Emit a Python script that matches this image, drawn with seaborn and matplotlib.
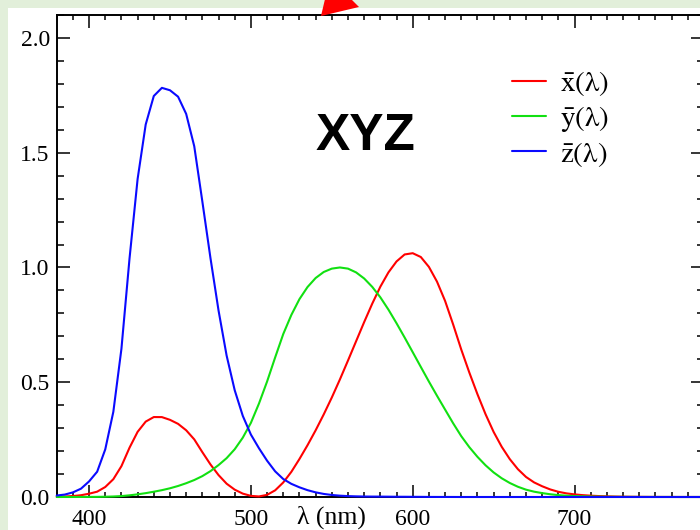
import matplotlib
matplotlib.use("Agg")
import matplotlib.pyplot as plt
from matplotlib.patches import Rectangle, Polygon
from matplotlib.ticker import MultipleLocator
import numpy as np
import pandas as pd
import seaborn as sns

# CIE 1931 2-degree standard observer colour matching functions (5 nm steps)
wavelength = [380, 385, 390, 395, 400, 405, 410, 415, 420, 425, 430, 435, 440, 445,
              450, 455, 460, 465, 470, 475, 480, 485, 490, 495, 500, 505, 510, 515,
              520, 525, 530, 535, 540, 545, 550, 555, 560, 565, 570, 575, 580, 585,
              590, 595, 600, 605, 610, 615, 620, 625, 630, 635, 640, 645, 650, 655,
              660, 665, 670, 675, 680, 685, 690, 695, 700, 705, 710, 715, 720, 725,
              730, 735, 740, 745, 750, 755, 760, 765, 770, 775, 780]

x_bar = [0.0014, 0.0022, 0.0042, 0.0077, 0.0143, 0.0232, 0.0435, 0.0776, 0.1344, 0.2148,
         0.2839, 0.3285, 0.3483, 0.3481, 0.3362, 0.3187, 0.2908, 0.2511, 0.1954, 0.1421,
         0.0956, 0.0580, 0.0320, 0.0147, 0.0049, 0.0024, 0.0093, 0.0291, 0.0633, 0.1096,
         0.1655, 0.2257, 0.2904, 0.3597, 0.4334, 0.5121, 0.5945, 0.6784, 0.7621, 0.8425,
         0.9163, 0.9786, 1.0263, 1.0567, 1.0622, 1.0456, 1.0026, 0.9384, 0.8544, 0.7514,
         0.6424, 0.5419, 0.4479, 0.3608, 0.2835, 0.2187, 0.1649, 0.1212, 0.0874, 0.0636,
         0.0468, 0.0329, 0.0227, 0.0158, 0.0114, 0.0081, 0.0058, 0.0041, 0.0029, 0.0020,
         0.0014, 0.0010, 0.0007, 0.0005, 0.0003, 0.0002, 0.0002, 0.0001, 0.0001, 0.0001,
         0.0000]

y_bar = [0.0000, 0.0001, 0.0001, 0.0002, 0.0004, 0.0006, 0.0012, 0.0022, 0.0040, 0.0073,
         0.0116, 0.0168, 0.0230, 0.0298, 0.0380, 0.0480, 0.0600, 0.0739, 0.0910, 0.1126,
         0.1390, 0.1693, 0.2080, 0.2586, 0.3230, 0.4073, 0.5030, 0.6082, 0.7100, 0.7932,
         0.8620, 0.9149, 0.9540, 0.9803, 0.9950, 1.0000, 0.9950, 0.9786, 0.9520, 0.9154,
         0.8700, 0.8163, 0.7570, 0.6949, 0.6310, 0.5668, 0.5030, 0.4412, 0.3810, 0.3210,
         0.2650, 0.2170, 0.1750, 0.1382, 0.1070, 0.0816, 0.0610, 0.0446, 0.0320, 0.0232,
         0.0170, 0.0119, 0.0082, 0.0057, 0.0041, 0.0029, 0.0021, 0.0015, 0.0010, 0.0007,
         0.0005, 0.0004, 0.0002, 0.0002, 0.0001, 0.0001, 0.0001, 0.0000, 0.0000, 0.0000,
         0.0000]

z_bar = [0.0065, 0.0106, 0.0201, 0.0362, 0.0679, 0.1102, 0.2074, 0.3713, 0.6456, 1.0391,
         1.3856, 1.6230, 1.7471, 1.7826, 1.7721, 1.7441, 1.6692, 1.5281, 1.2876, 1.0419,
         0.8130, 0.6162, 0.4652, 0.3533, 0.2720, 0.2123, 0.1582, 0.1117, 0.0783, 0.0573,
         0.0422, 0.0298, 0.0203, 0.0134, 0.0088, 0.0058, 0.0039, 0.0028, 0.0021, 0.0018,
         0.0017, 0.0014, 0.0011, 0.0010, 0.0008, 0.0006, 0.0003, 0.0002, 0.0002, 0.0001,
         0.0000, 0.0000, 0.0000, 0.0000, 0.0000, 0.0000, 0.0000, 0.0000, 0.0000, 0.0000,
         0.0000, 0.0000, 0.0000, 0.0000, 0.0000, 0.0000, 0.0000, 0.0000, 0.0000, 0.0000,
         0.0000, 0.0000, 0.0000, 0.0000, 0.0000, 0.0000, 0.0000, 0.0000, 0.0000, 0.0000,
         0.0000]

curve_labels = [r"$\bar{\mathrm{x}}(\mathrm{\lambda})$",
                r"$\bar{\mathrm{y}}(\mathrm{\lambda})$",
                r"$\bar{\mathrm{z}}(\mathrm{\lambda})$"]
curve_colors = ["#ff0000", "#11e011", "#0a0aff"]
x_tick_values = [400, 500, 600, 700]
y_tick_values = [0.0, 0.5, 1.0, 1.5, 2.0]

sns.set_style("ticks")
plt.rcParams["font.family"] = ["Liberation Serif", "DejaVu Serif"]
plt.rcParams["mathtext.fontset"] = "stix"
for key in ("text.color", "axes.labelcolor", "xtick.color", "ytick.color",
            "axes.edgecolor"):
    plt.rcParams[key] = "black"

df = pd.concat([
    pd.DataFrame({"wavelength": wavelength, "value": vals, "curve": lab})
    for vals, lab in zip([x_bar, y_bar, z_bar], curve_labels)
], ignore_index=True)

W, H = 700, 530
fig = plt.figure(figsize=(W / 100, H / 100), dpi=100)
fig.patch.set_facecolor("#e2efda")
fig.add_artist(Rectangle((8 / W, 0), 1, 1 - 7.5 / H, transform=fig.transFigure,
                         facecolor="white", edgecolor="none", zorder=-5))

ax = fig.add_axes([56.7 / W, 1 - 497 / H, (704 - 56.7) / W, (497 - 15) / H])
sns.lineplot(data=df, x="wavelength", y="value", hue="curve",
             hue_order=curve_labels, palette=curve_colors,
             linewidth=1.5, ax=ax, legend=False)
for line in ax.lines:
    line.set_clip_on(False)
    line.set_zorder(3)

ax.set_xlim(380, 780)
ax.set_ylim(0, 2.1)
ax.set_xlabel("")
ax.set_ylabel("")

ax.xaxis.set_major_locator(MultipleLocator(100))
ax.xaxis.set_minor_locator(MultipleLocator(10))
ax.yaxis.set_major_locator(MultipleLocator(0.5))
ax.yaxis.set_minor_locator(MultipleLocator(0.1))
ax.set_xticks(x_tick_values)
ax.set_xticklabels([str(v) for v in x_tick_values])
ax.set_yticks(y_tick_values)
ax.set_yticklabels([f"{v:.1f}" for v in y_tick_values])

for s in ax.spines.values():
    s.set_visible(True)
    s.set_linewidth(1.4)
    s.set_color("black")

ax.tick_params(which="both", direction="in", top=True, right=True,
               width=1.1, color="black", labelcolor="black", labelsize=17)
ax.tick_params(axis="x", which="major", length=9, pad=8.5)
ax.tick_params(axis="x", which="minor", length=3.5)
ax.tick_params(axis="y", which="major", length=9.5, pad=5)
ax.tick_params(axis="y", which="minor", length=5)

# axis title sits on the tick-label line, between 500 and 600
ax.text(550, -32 / 482, "λ (nm)", transform=ax.get_xaxis_transform(),
        ha="center", va="bottom", fontsize=18.5, color="black")

handles = [plt.Line2D([], [], color=c, linewidth=1.5) for c in curve_colors]
ax.legend(handles, curve_labels, loc="upper left",
          bbox_to_anchor=(512 / W, 1 - 69 / H), bbox_transform=fig.transFigure,
          frameon=False, fontsize=21, handlelength=1.15, handletextpad=0.5,
          labelspacing=0.2, borderpad=0, borderaxespad=0, labelcolor="black")

fig.text(365 / W, 1 - 150 / H, "XYZ", family="Liberation Sans", weight="bold",
         fontsize=37, ha="center", va="baseline", color="black")

# red arrowhead entering from the top edge
fig.add_artist(Polygon([(321 / W, 1 - 16 / H), (359 / W, 1 - 7 / H), (330 / W, 1 + 22 / H)],
                       closed=True, transform=fig.transFigure,
                       facecolor="#ff0000", edgecolor="none", zorder=10))

fig.savefig("out.png", dpi=100, facecolor=fig.get_facecolor())
